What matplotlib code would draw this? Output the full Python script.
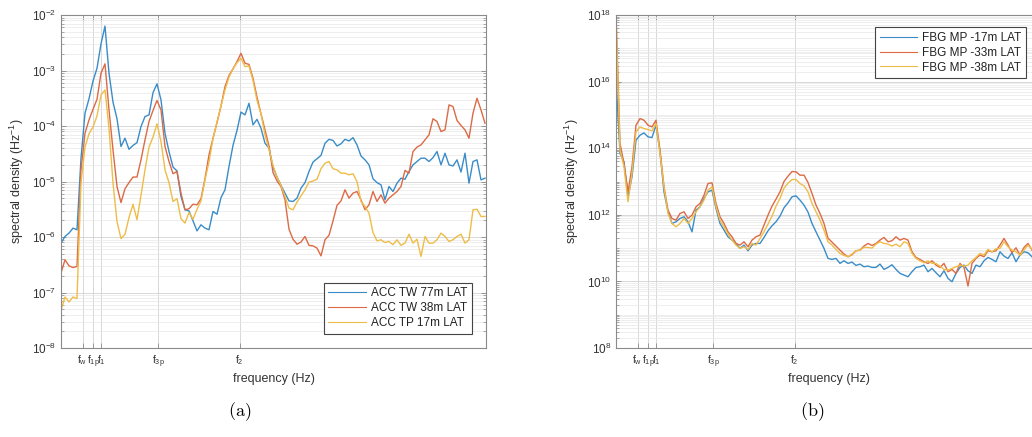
import matplotlib
matplotlib.use('Agg')
import matplotlib.pyplot as plt
import numpy as np
from matplotlib.ticker import LogLocator, FixedLocator, NullLocator, NullFormatter, LogFormatterSciNotation

plt.rcParams['font.family'] = ['Liberation Sans', 'DejaVu Sans']
plt.rcParams['mathtext.default'] = 'regular'

# ---------------- data ----------------
freq = [0.00, 0.02, 0.04, 0.06, 0.08, 0.10, 0.12, 0.14, 0.16, 0.18,
        0.20, 0.22, 0.24, 0.26, 0.28, 0.30, 0.32, 0.34, 0.36, 0.38,
        0.40, 0.42, 0.44, 0.46, 0.48, 0.50, 0.52, 0.54, 0.56, 0.58,
        0.60, 0.62, 0.64, 0.66, 0.68, 0.70, 0.72, 0.74, 0.76, 0.78,
        0.80, 0.82, 0.84, 0.86, 0.88, 0.90, 0.92, 0.94, 0.96, 0.98,
        1.00, 1.02, 1.04, 1.06, 1.08, 1.10, 1.12, 1.14, 1.16, 1.18,
        1.20, 1.22, 1.24, 1.26, 1.28, 1.30, 1.32, 1.34, 1.36, 1.38,
        1.40, 1.42, 1.44, 1.46, 1.48, 1.50, 1.52, 1.54, 1.56, 1.58,
        1.60, 1.62, 1.64, 1.66, 1.68, 1.70, 1.72, 1.74, 1.76, 1.78,
        1.80, 1.82, 1.84, 1.86, 1.88, 1.90, 1.92, 1.94, 1.96, 1.98,
        2.00, 2.02, 2.04, 2.06, 2.08, 2.10, 2.12]

# log10 of spectral density, panel (a)
acc_tw77_log = [-6.11, -5.99, -5.93, -5.84, -5.87, -4.58, -3.77, -3.51, -3.19, -2.96,
                -2.52, -2.20, -3.05, -3.57, -3.87, -4.37, -4.22, -4.42, -4.35, -4.30,
                -4.01, -3.83, -3.80, -3.40, -3.24, -3.53, -4.13, -4.46, -4.74, -4.81,
                -5.27, -5.51, -5.53, -5.71, -5.89, -5.78, -5.84, -5.87, -5.54, -5.59,
                -5.29, -5.15, -4.73, -4.35, -4.08, -3.75, -3.80, -3.59, -3.98, -3.88,
                -4.04, -4.31, -4.40, -4.74, -4.92, -5.07, -5.21, -5.35, -5.36, -5.30,
                -5.12, -5.02, -4.82, -4.65, -4.59, -4.53, -4.31, -4.24, -4.26, -4.36,
                -4.32, -4.24, -4.27, -4.21, -4.34, -4.54, -4.61, -4.70, -4.95, -5.02,
                -5.06, -5.33, -5.09, -5.18, -5.03, -4.94, -4.96, -4.82, -4.70, -4.64,
                -4.58, -4.58, -4.64, -4.57, -4.46, -4.70, -4.49, -4.70, -4.72, -4.61,
                -4.83, -4.49, -5.03, -4.64, -4.61, -4.97, -4.94]
acc_tw38_log = [-6.65, -6.41, -6.52, -6.55, -6.53, -4.79, -4.13, -3.89, -3.70, -3.52,
                -3.05, -2.88, -3.71, -4.43, -5.09, -5.38, -5.13, -5.02, -4.92, -4.92,
                -4.61, -4.25, -3.92, -3.72, -3.54, -3.71, -4.37, -4.64, -4.86, -4.82,
                -5.21, -5.51, -5.49, -5.41, -5.42, -5.31, -4.95, -4.52, -4.22, -3.94,
                -3.64, -3.29, -3.09, -2.97, -2.84, -2.69, -2.87, -2.89, -3.14, -3.48,
                -3.78, -4.07, -4.36, -4.84, -4.99, -5.09, -5.33, -5.86, -6.04, -6.13,
                -6.09, -5.99, -6.15, -6.16, -6.20, -6.34, -6.05, -5.97, -5.71, -5.43,
                -5.35, -5.15, -5.30, -5.21, -5.18, -5.33, -5.51, -5.42, -5.18, -5.36,
                -5.24, -5.39, -5.30, -5.24, -5.18, -5.09, -4.80, -4.85, -4.46, -4.38,
                -4.34, -4.25, -4.16, -3.87, -3.92, -4.10, -4.07, -3.62, -3.65, -3.90,
                -3.99, -4.07, -4.22, -3.77, -3.50, -3.71, -3.95]
acc_tp17_log = [-7.32, -7.08, -7.17, -7.08, -7.11, -5.03, -4.38, -4.14, -4.02, -3.82,
                -3.44, -3.35, -4.04, -5.03, -5.72, -6.03, -5.95, -5.65, -5.41, -5.69,
                -5.25, -4.79, -4.38, -4.20, -3.96, -4.28, -4.79, -5.02, -5.36, -5.31,
                -5.67, -5.75, -5.56, -5.68, -5.50, -5.35, -4.97, -4.65, -4.23, -3.93,
                -3.64, -3.35, -3.12, -2.97, -2.86, -2.78, -2.93, -2.92, -3.18, -3.54,
                -3.78, -4.16, -4.42, -4.71, -4.92, -5.07, -5.27, -5.48, -5.51, -5.37,
                -5.26, -5.15, -5.01, -4.99, -4.96, -4.77, -4.67, -4.64, -4.77, -4.79,
                -4.85, -4.85, -4.88, -4.86, -5.00, -5.36, -5.45, -5.57, -5.92, -6.07,
                -6.05, -6.10, -6.08, -6.14, -6.05, -6.15, -6.11, -5.95, -6.11, -6.04,
                -6.35, -5.99, -6.11, -6.11, -6.05, -5.93, -5.99, -6.08, -6.05, -5.99,
                -5.95, -6.11, -6.05, -5.51, -5.50, -5.63, -5.63]

# log10 of spectral density, panel (b)
fbg_17_log = [16.10, 13.84, 13.59, 12.54, 13.14, 14.24, 14.39, 14.46, 14.34, 14.32,
              14.69, 13.89, 12.69, 12.09, 11.74, 11.79, 11.89, 11.94, 11.79, 11.49,
              12.14, 12.24, 12.49, 12.69, 12.74, 12.19, 11.74, 11.54, 11.34, 11.24,
              11.14, 10.99, 11.09, 10.92, 11.09, 11.14, 11.14, 11.32, 11.52, 11.67,
              11.79, 11.96, 12.21, 12.36, 12.54, 12.57, 12.44, 12.29, 12.08, 11.74,
              11.49, 11.24, 10.99, 10.69, 10.66, 10.69, 10.54, 10.62, 10.54, 10.58,
              10.48, 10.52, 10.44, 10.46, 10.42, 10.42, 10.52, 10.36, 10.42, 10.50,
              10.36, 10.24, 10.19, 10.14, 10.29, 10.42, 10.44, 10.49, 10.29, 10.39,
              10.26, 10.14, 10.32, 10.09, 9.99, 10.24, 10.42, 10.49, 10.32, 10.24,
              10.49, 10.44, 10.62, 10.72, 10.66, 10.59, 10.89, 10.76, 10.69, 10.86,
              10.59, 10.79, 10.89, 10.86, 10.74]
fbg_33_log = [18.00, 14.14, 13.54, 12.69, 13.44, 14.69, 14.89, 14.84, 14.69, 14.64,
              14.84, 13.94, 12.84, 12.14, 11.89, 11.84, 12.04, 12.09, 11.89, 11.99,
              12.24, 12.34, 12.59, 12.94, 12.96, 12.34, 11.94, 11.74, 11.49, 11.34,
              11.14, 11.09, 11.19, 11.04, 11.24, 11.34, 11.39, 11.69, 11.99, 12.26,
              12.47, 12.69, 13.00, 13.16, 13.30, 13.29, 13.19, 13.19, 12.97, 12.64,
              12.29, 12.04, 11.74, 11.30, 11.18, 11.06, 10.94, 10.82, 10.74, 10.80,
              10.92, 10.94, 11.06, 11.14, 11.08, 11.14, 11.24, 11.32, 11.19, 11.22,
              11.34, 11.24, 11.29, 11.24, 10.89, 10.72, 10.66, 10.59, 10.54, 10.62,
              10.49, 10.42, 10.54, 10.29, 10.36, 10.24, 10.54, 10.42, 9.86, 10.54,
              10.69, 10.79, 10.74, 10.92, 10.89, 10.92, 11.09, 11.29, 11.09, 10.86,
              11.01, 10.79, 11.02, 11.14, 10.94]
fbg_38_log = [18.00, 13.94, 13.44, 12.39, 13.24, 14.49, 14.64, 14.59, 14.56, 14.52,
              14.74, 13.84, 12.84, 12.04, 11.74, 11.64, 11.74, 11.89, 11.74, 11.89,
              12.09, 12.24, 12.44, 12.74, 12.84, 12.24, 11.84, 11.64, 11.42, 11.24,
              11.09, 10.99, 11.04, 10.96, 11.14, 11.09, 11.29, 11.49, 11.72, 11.96,
              12.26, 12.49, 12.80, 12.95, 13.06, 13.06, 12.94, 12.87, 12.69, 12.34,
              12.09, 11.84, 11.54, 11.19, 11.09, 10.96, 10.84, 10.78, 10.74, 10.82,
              10.92, 10.94, 11.02, 11.02, 11.00, 11.12, 11.19, 11.14, 11.12, 11.06,
              11.12, 11.04, 11.19, 11.14, 10.84, 10.69, 10.62, 10.56, 10.62, 10.54,
              10.54, 10.46, 10.36, 10.34, 10.39, 10.44, 10.49, 10.46, 10.49, 10.62,
              10.72, 10.84, 10.79, 10.96, 10.89, 10.98, 10.99, 11.19, 11.04, 10.94,
              10.89, 10.79, 10.94, 11.09, 10.96]

tick_freqs = [0.108, 0.16, 0.20, 0.485, 0.893]
tick_labels = ['f$_{w}$', 'f$_{1p}$', 'f$_{1}$', 'f$_{3p}$', 'f$_{2}$']
labels_a = ['ACC TW 77m LAT', 'ACC TW 38m LAT', 'ACC TP 17m LAT']
labels_b = ['FBG MP -17m LAT', 'FBG MP -33m LAT', 'FBG MP -38m LAT']
colors = ['#3a8cc8', '#dc6a45', '#eebd48']

# ---------------- figure ----------------
W, H = 1032, 437
fig = plt.figure(figsize=(W / 100, H / 100), dpi=100)
ax1 = fig.add_axes([61 / W, 89 / H, 425 / W, 333 / H])
ax2 = fig.add_axes([616 / W, 89 / H, 425 / W, 333 / H])

f = np.array(freq)
nb = len(fbg_17_log)
for c, s, lab in zip(colors, [acc_tw77_log, acc_tw38_log, acc_tp17_log], labels_a):
    ax1.plot(f, 10.0 ** np.array(s), color=c, lw=1.0, label=lab)
for c, s, lab in zip(colors, [fbg_17_log, fbg_33_log, fbg_38_log], labels_b):
    ax2.plot(f[:nb], 10.0 ** np.array(s), color=c, lw=1.0, label=lab)


def style(ax, ylo, yhi, majors):
    ax.set_yscale('log')
    ax.set_xlim(0, 2.125)
    ax.set_ylim(ylo, yhi)
    ax.yaxis.set_major_locator(FixedLocator(majors))
    ax.yaxis.set_major_formatter(LogFormatterSciNotation())
    ax.yaxis.set_minor_locator(LogLocator(base=10, subs=np.arange(1, 10), numticks=200))
    ax.yaxis.set_minor_formatter(NullFormatter())
    ax.set_xticks(tick_freqs)
    ax.set_xticklabels(tick_labels)
    ax.xaxis.set_minor_locator(NullLocator())
    ax.set_axisbelow(True)
    ax.grid(True, which='major', color='#d2d2d2', lw=0.6)
    ax.grid(True, which='minor', axis='y', color='#e8e8e8', lw=0.5)
    ax.tick_params(which='both', direction='in', top=True, right=True,
                   color='#8a8a8a', labelcolor='#333333', labelsize=8.5)
    ax.tick_params(axis='x', labelsize=7.5)
    ax.tick_params(which='major', length=3.5, width=0.6)
    ax.tick_params(which='minor', length=2, width=0.5)
    ax.tick_params(axis='x', pad=4)
    for sp in ax.spines.values():
        sp.set_color('#8a8a8a')
        sp.set_linewidth(0.8)
    ax.set_xlabel('frequency (Hz)', fontsize=9, color='#333333', labelpad=2)
    ax.set_ylabel('spectral density (Hz$^{-1}$)', fontsize=9, color='#333333', labelpad=4)


style(ax1, 1e-8, 1e-2, [10.0 ** e for e in range(-8, -1)])
style(ax2, 1e8, 1e18, [10.0 ** e for e in range(8, 19, 2)])

leg_kw = dict(fontsize=8.5, frameon=True, fancybox=False, framealpha=1,
              edgecolor='#444444', borderaxespad=0, handlelength=3.2,
              handletextpad=0.4, labelspacing=0.25, borderpad=0.4)
l1 = ax1.legend(loc='lower right', bbox_to_anchor=(0.967, 0.042), **leg_kw)
l2 = ax2.legend(loc='upper right', bbox_to_anchor=(0.965, 0.964), **leg_kw)
for lg in (l1, l2):
    lg.get_frame().set_linewidth(0.8)
    for t in lg.get_texts():
        t.set_color('#222222')
    for ln in lg.get_lines():
        ln.set_linewidth(0.8)

fig.text(240 / W, 1 - 412 / H, r'$\mathrm{(a)}$', ha='center', va='center',
         fontsize=13, math_fontfamily='cm')
fig.text(812 / W, 1 - 412 / H, r'$\mathrm{(b)}$', ha='center', va='center',
         fontsize=13, math_fontfamily='cm')

fig.savefig('out.png', dpi=100)
